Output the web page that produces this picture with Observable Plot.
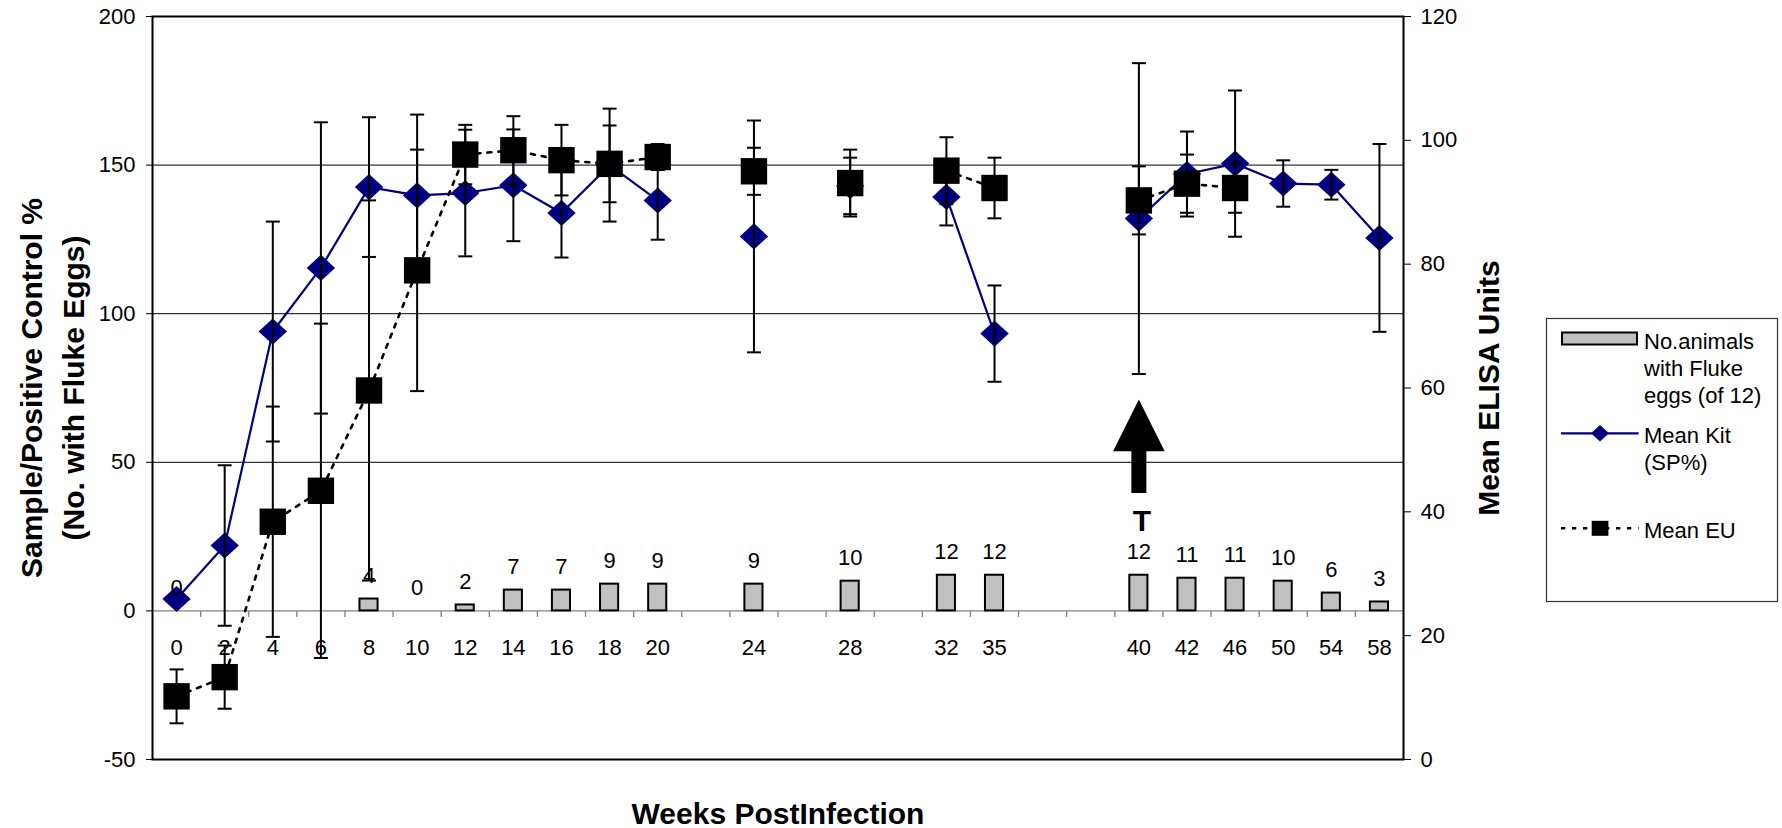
<!DOCTYPE html>
<html>
<head>
<meta charset="utf-8">
<script src="https://cdn.jsdelivr.net/npm/d3@7"></script>
<script src="https://cdn.jsdelivr.net/npm/@observablehq/plot@0.6"></script>
<style>
  html, body { margin: 0; padding: 0; background: #fff; }
  #wrap { position: relative; width: 1782px; height: 828px; }
</style>
</head>
<body>
<div id="wrap"></div>
<script>
// ---------- data ----------
// category slots along the x axis; empty strings are unlabeled gap slots
const weekLabels = ["0","2","4","6","8","10","12","14","16","18","20","","24","","28","","32","35","","","40","42","46","50","54","58"];
// No. animals with fluke eggs (of 12)  — left axis
const flukeCount = [0,null,null,null,4,0,2,7,7,9,9,null,9,null,10,null,12,12,null,null,12,11,11,10,6,3];
// Mean Kit (SP%) — left axis
const kitMean = [4,22,94,115.4,142.6,139.8,140.6,143.2,133.9,150,138.1,null,126,null,143,null,139.3,93.3,null,null,132,147,150.5,143.8,143.4,125.5];
const kitErr  = [null,27,37,49,23.5,27.2,21.3,18.8,15,19,13.2,null,39,null,9.5,null,9.6,16.2,null,null,52.3,14.3,24.6,7.8,5,31.6];
// Mean EU (ELISA units) — right axis
const euMean = [10.2,13.3,38.4,43.4,59.6,79,97.7,98.4,96.8,96.2,97.3,null,95,null,93.1,null,95.1,92.3,null,null,90.3,93,92.3,null,null,null];
const euErr  = [4.35,5.1,18.6,27,30.7,19.5,4.8,5.5,5.7,6.2,2.1,null,3.8,null,5.4,null,5.4,4.9,null,null,5.5,4.7,4,null,null,null];
// axis ticks
const leftTicks = [-50, 0, 50, 100, 150, 200];
const rightTicks = [0, 20, 40, 60, 80, 100, 120];
const gridValues = [50, 100, 150];
// annotation: treatment at week 40
const treatmentWeek = "40";
const treatmentLabel = "T";

// ---------- helpers ----------
const FONT = 'Arial, "Liberation Sans", Helvetica, sans-serif';
// right axis (0..120) shares the frame with left axis (-50..200)
const euToLeft = r => r / 0.48 - 50;
const leftToEu = v => (v + 50) * 0.48;

const rows = weekLabels.map((week, i) => ({
  i, week,
  fluke: flukeCount[i],
  kit: kitMean[i],
  kitLo: kitErr[i] == null ? null : kitMean[i] - kitErr[i],
  kitHi: kitErr[i] == null ? null : kitMean[i] + kitErr[i],
  eu: euMean[i] == null ? null : euToLeft(euMean[i]),
  euLo: euErr[i] == null ? null : euToLeft(euMean[i] - euErr[i]),
  euHi: euErr[i] == null ? null : euToLeft(euMean[i] + euErr[i])
}));
const boundaries = weekLabels.slice(1).map((_, k) => k + 0.5);
const tIndex = weekLabels.indexOf(treatmentWeek);

// custom symbols (pixel shapes)
const rad = size => Math.sqrt(size / Math.PI);
const diamondSym = { draw(ctx, size) { const r = rad(size); ctx.moveTo(0, -r * 0.92); ctx.lineTo(r, 0); ctx.lineTo(0, r * 0.92); ctx.lineTo(-r, 0); ctx.closePath(); } };
const squareSym  = { draw(ctx, size) { const r = rad(size); ctx.rect(-r, -r, 2 * r, 2 * r); } };
const capSym     = { draw(ctx, size) { const r = rad(size); ctx.moveTo(-r, 0); ctx.lineTo(r, 0); } };
const tickSym    = { draw(ctx, size) { ctx.moveTo(0, 0); ctx.lineTo(0, 6); } };
const arrowSym   = { draw(ctx, size) {
  ctx.moveTo(0, -46.7); ctx.lineTo(25.8, 5); ctx.lineTo(7.5, 5); ctx.lineTo(7.5, 46.7);
  ctx.lineTo(-7.5, 46.7); ctx.lineTo(-7.5, 5); ctx.lineTo(-25.8, 5); ctx.closePath(); } };

const chart = Plot.plot({
  width: 1782,
  height: 828,
  marginLeft: 152,
  marginRight: 379,
  marginTop: 16,
  marginBottom: 69,
  style: { fontFamily: FONT, fontSize: "22px", color: "#000", background: "#fff", overflow: "visible" },
  x: { type: "linear", domain: [-0.5, weekLabels.length - 0.5], axis: null },
  y: { domain: [-50, 200], axis: null },
  marks: [
    Plot.ruleY(gridValues, { stroke: "#000", strokeWidth: 1 }),
    Plot.ruleY([0], { stroke: "#808080", strokeWidth: 1.3 }),
    Plot.dot(boundaries, { x: d => d, y: 0, symbol: tickSym, r: 1, stroke: "#808080", strokeWidth: 1.3, fill: "none" }),
    // bars
    Plot.rectY(rows.filter(d => d.fluke > 0), {
      x1: d => d.i - 0.5, x2: d => d.i + 0.5, y1: 0, y2: "fluke",
      insetLeft: 15, insetRight: 15, fill: "#C0C0C0", stroke: "#000", strokeWidth: 2
    }),
    // lines
    Plot.line(rows, { x: "i", y: "kit", stroke: "#000080", strokeWidth: 2.2 }),
    Plot.line(rows, { x: "i", y: "eu", stroke: "#000", strokeWidth: 2.6, strokeDasharray: "4,7" }),
    // markers
    Plot.dot(rows.filter(d => d.kit != null), { x: "i", y: "kit", symbol: diamondSym, r: 14.2, fill: "#000080", stroke: "none" }),
    Plot.dot(rows.filter(d => d.eu != null), { x: "i", y: "eu", symbol: squareSym, r: 13.2, fill: "#000", stroke: "none" }),
    // error bars
    Plot.ruleX(rows.filter(d => d.kitLo != null), { x: "i", y1: "kitLo", y2: "kitHi", stroke: "#000", strokeWidth: 2 }),
    Plot.ruleX(rows.filter(d => d.euLo != null), { x: "i", y1: "euLo", y2: "euHi", stroke: "#000", strokeWidth: 2 }),
    Plot.dot(rows.filter(d => d.kitLo != null), { x: "i", y: "kitLo", symbol: capSym, r: 7, stroke: "#000", strokeWidth: 2, fill: "none" }),
    Plot.dot(rows.filter(d => d.kitHi != null), { x: "i", y: "kitHi", symbol: capSym, r: 7, stroke: "#000", strokeWidth: 2, fill: "none" }),
    Plot.dot(rows.filter(d => d.euLo != null), { x: "i", y: "euLo", symbol: capSym, r: 7, stroke: "#000", strokeWidth: 2, fill: "none" }),
    Plot.dot(rows.filter(d => d.euHi != null), { x: "i", y: "euHi", symbol: capSym, r: 7, stroke: "#000", strokeWidth: 2, fill: "none" }),
    // bar value labels
    Plot.text(rows.filter(d => d.fluke != null), { x: "i", y: "fluke", text: d => String(d.fluke), dy: -23, fill: "#000", fontSize: 22 }),
    // category labels under the zero line
    Plot.text(rows, { x: "i", y: 0, text: "week", dy: 37, fill: "#000", fontSize: 22 }),
    // treatment annotation
    Plot.dot([tIndex], { x: d => d, y: 55.4, symbol: arrowSym, r: 10, fill: "#000", stroke: "none" }),
    Plot.text([treatmentLabel], { x: tIndex, y: 30.1, text: d => d, dx: 3, fontSize: 30, fontWeight: "bold", fill: "#000" }),
    // frame and axes
    Plot.frame({ stroke: "#000", strokeWidth: 2 }),
    Plot.axisY(leftTicks, { anchor: "left", tickSize: 6, tickPadding: 11, tickFormat: d => String(d), label: null, fontSize: 22 }),
    Plot.axisY(rightTicks.map(euToLeft), { anchor: "right", tickSize: 7, tickPadding: 10, tickFormat: d => String(Math.round(leftToEu(d))), label: null, fontSize: 22 }),
    // axis titles
    Plot.text(["Sample/Positive Control %\n(No. with Fluke Eggs)"], { frameAnchor: "left", text: d => d, dx: -103, rotate: -90, textAnchor: "middle", lineAnchor: "middle", lineHeight: 1.39, fontSize: 30, fontWeight: "bold", fill: "#000" }),
    Plot.text(["Mean ELISA Units"], { frameAnchor: "right", text: d => d, dx: 86, rotate: -90, textAnchor: "middle", lineAnchor: "middle", fontSize: 30, fontWeight: "bold", fill: "#000" }),
    Plot.text(["Weeks PostInfection"], { frameAnchor: "bottom", text: d => d, dy: 55, textAnchor: "middle", lineAnchor: "middle", fontSize: 30, fontWeight: "bold", fill: "#000" })
  ]
});
document.getElementById("wrap").appendChild(chart);

// ---------- legend (right of the plot) ----------
const legendItems = [
  { kind: "bar",  lines: ["No.animals", "with Fluke", "eggs (of 12)"] },
  { kind: "kit",  lines: ["Mean Kit", "(SP%)"] },
  { kind: "eu",   lines: ["Mean EU"] }
];
const leg = d3.select("#wrap").append("svg")
  .attr("width", 234).attr("height", 286)
  .style("position", "absolute").style("left", "1545px").style("top", "317px")
  .style("font-family", FONT).style("font-size", "22px");
leg.append("rect").attr("x", 1.5).attr("y", 1.5).attr("width", 231).attr("height", 283)
  .attr("fill", "#fff").attr("stroke", "#333").attr("stroke-width", 1.2);
const itemTop = { bar: 32.3, kit: 126.3, eu: 221.3 };
legendItems.forEach(item => {
  const base = itemTop[item.kind];
  const t = leg.append("text").attr("x", 99).attr("y", base).attr("fill", "#000");
  item.lines.forEach((ln, k) => t.append("tspan").attr("x", 99).attr("y", base + k * 26.7).text(ln));
  if (item.kind === "bar") {
    leg.append("rect").attr("x", 17).attr("y", 15.5).attr("width", 75).attr("height", 12)
      .attr("fill", "#C0C0C0").attr("stroke", "#000").attr("stroke-width", 2);
  } else if (item.kind === "kit") {
    const y = 116.3;
    leg.append("line").attr("x1", 16).attr("x2", 93.6).attr("y1", y).attr("y2", y)
      .attr("stroke", "#000080").attr("stroke-width", 2.2);
    leg.append("path").attr("d", `M55,${y - 8.3}L64,${y}L55,${y + 8.3}L46,${y}Z`).attr("fill", "#000080");
  } else {
    const y = 211.3;
    leg.append("line").attr("x1", 16).attr("x2", 93.6).attr("y1", y).attr("y2", y)
      .attr("stroke", "#000").attr("stroke-width", 2.6).attr("stroke-dasharray", "4.3,6.7");
    leg.append("rect").attr("x", 46.7).attr("y", y - 7.5).attr("width", 16.7).attr("height", 15).attr("fill", "#000");
  }
});
</script>
</body>
</html>
